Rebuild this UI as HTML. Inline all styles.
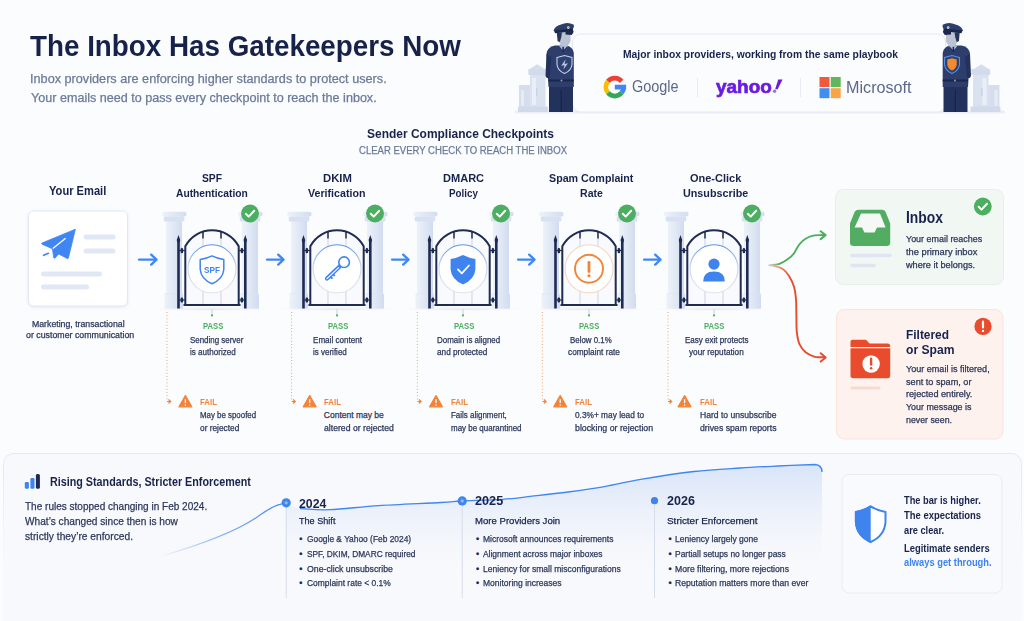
<!DOCTYPE html>
<html><head><meta charset="utf-8"><title>The Inbox Has Gatekeepers Now</title>
<style>
html,body{margin:0;padding:0;}
body{width:1024px;height:621px;overflow:hidden;position:relative;background:#fbfcfe;font-family:"Liberation Sans",sans-serif;}
.t{position:absolute;white-space:nowrap;transform-origin:0 0;}
svg.g{position:absolute;left:0;top:0;}
</style></head><body>
<svg class="g" width="1024" height="621" viewBox="0 0 1024 621">
<defs>
<linearGradient id="pil" x1="0" x2="1" y1="0" y2="0"><stop offset="0" stop-color="#edf2f9"/><stop offset="0.5" stop-color="#e0e8f5"/><stop offset="1" stop-color="#d2dcef"/></linearGradient><linearGradient id="cap" x1="0" x2="1" y1="0" y2="0"><stop offset="0" stop-color="#eef2f9"/><stop offset="0.5" stop-color="#dfe7f5"/><stop offset="1" stop-color="#d4ddef"/></linearGradient><radialGradient id="floor"><stop offset="0" stop-color="#e2e7f0" stop-opacity="0.9"/><stop offset="1" stop-color="#eef1f6" stop-opacity="0"/></radialGradient>
<linearGradient id="ringb" x1="0" x2="0" y1="0" y2="1"><stop offset="0" stop-color="#5b93ee"/><stop offset="0.45" stop-color="#c9d6ef"/><stop offset="1" stop-color="#dfe4ee"/></linearGradient>
<linearGradient id="tfill" x1="0" x2="0" y1="0" y2="1"><stop offset="0" stop-color="#d6e3f8" stop-opacity="0.95"/><stop offset="0.6" stop-color="#eaf0fa" stop-opacity="0.5"/><stop offset="1" stop-color="#f9fafd" stop-opacity="0"/></linearGradient>
<linearGradient id="tl1" x1="0" x2="1" y1="0" y2="0"><stop offset="0" stop-color="#3f83ee" stop-opacity="0"/><stop offset="0.5" stop-color="#3f83ee" stop-opacity="0.6"/><stop offset="1" stop-color="#3f83ee"/></linearGradient>
<linearGradient id="vfade" x1="0" x2="0" y1="0" y2="1"><stop offset="0" stop-color="#9fbdf0"/><stop offset="1" stop-color="#e8eef8" stop-opacity="0"/></linearGradient>
<linearGradient id="cardb" x1="0" x2="0" y1="0" y2="1"><stop offset="0" stop-color="#e3e8f1"/><stop offset="0.25" stop-color="#eaeef5"/><stop offset="0.6" stop-color="#f3f5f9" stop-opacity="0.3"/></linearGradient>
<linearGradient id="gcurve" gradientUnits="userSpaceOnUse" x1="769" y1="0" x2="790" y2="0"><stop offset="0" stop-color="#c7d3e6"/><stop offset="0.5" stop-color="#4cae60"/><stop offset="1" stop-color="#4cae60"/></linearGradient>
<linearGradient id="rcurve" gradientUnits="userSpaceOnUse" x1="769" y1="265" x2="790" y2="280"><stop offset="0" stop-color="#d8cfcf"/><stop offset="0.5" stop-color="#ee7a4a"/><stop offset="1" stop-color="#e84c2d"/></linearGradient>
<filter id="sh" x="-20%" y="-20%" width="140%" height="140%"><feDropShadow dx="0" dy="1" stdDeviation="1.5" flood-color="#9aa8c8" flood-opacity="0.25"/></filter>
</defs>
<rect x="515" y="110.5" width="490" height="3" rx="1.5" fill="#e6eaf2" opacity="0.8"/><rect x="519" y="85" width="12" height="27" fill="#d6deee"/><rect x="521" y="90" width="3" height="16" fill="#e6ecf6"/><rect x="530" y="74" width="15.5" height="38" fill="#dae2f0"/><rect x="532" y="78" width="4" height="27" fill="#e9eef7"/><rect x="536" y="88" width="1.5" height="8" fill="#c9d3e6"/><rect x="528.3" y="69" width="19" height="6" rx="1" fill="#d2dbec"/><path d="M528.8 69.5 L537.2 64.3 L545.6 69.5 Z" fill="#d6deee"/><rect x="518" y="106.5" width="30" height="5.5" rx="1" fill="#d1daeb"/><g transform="translate(1518.5,0) scale(-1,1)"><rect x="519" y="85" width="12" height="27" fill="#d6deee"/><rect x="521" y="90" width="3" height="16" fill="#e6ecf6"/><rect x="530" y="74" width="15.5" height="38" fill="#dae2f0"/><rect x="532" y="78" width="4" height="27" fill="#e9eef7"/><rect x="536" y="88" width="1.5" height="8" fill="#c9d3e6"/><rect x="528.3" y="69" width="19" height="6" rx="1" fill="#d2dbec"/><path d="M528.8 69.5 L537.2 64.3 L545.6 69.5 Z" fill="#d6deee"/><rect x="518" y="106.5" width="30" height="5.5" rx="1" fill="#d1daeb"/></g><rect x="572.5" y="34" width="373" height="78" rx="8" fill="#fbfcfe" stroke="#e3e8f1" stroke-width="1"/><line x1="697.5" y1="78" x2="697.5" y2="97" stroke="#e7ebf3" stroke-width="1"/><line x1="800.5" y1="78" x2="800.5" y2="97" stroke="#e7ebf3" stroke-width="1"/><path d="M607.96 81.36 A8.93 8.93 0 0 1 621.64 81.36" fill="none" stroke="#ea4335" stroke-width="4.75"/><path d="M607.96 92.84 A8.93 8.93 0 0 1 607.96 81.36" fill="none" stroke="#fbbc05" stroke-width="4.75"/><path d="M621.64 92.84 A8.93 8.93 0 0 1 607.96 92.84" fill="none" stroke="#34a853" stroke-width="4.75"/><path d="M623.73 87.10 A8.93 8.93 0 0 1 621.64 92.84" fill="none" stroke="#4285f4" stroke-width="4.75"/><rect x="614.80" y="84.73" width="11.30" height="4.75" fill="#4285f4"/><rect x="819.5" y="77" width="10" height="10" fill="#ee5a3a"/><rect x="830.7" y="77" width="10" height="10" fill="#5fb65c"/><rect x="819.5" y="88.2" width="10" height="10" fill="#3f8ff0"/><rect x="830.7" y="88.2" width="10" height="10" fill="#f8a448"/><path d="M778.2 79.5 L782.6 79.5 L777.6 89.2 L775.2 89.2 Z" fill="#6a1be0"/><circle cx="774.6" cy="91.3" r="1.7" fill="#8a7fc8"/><g transform="translate(546,0)"><rect x="3" y="84" width="24" height="28" fill="#22325c"/><rect x="14.6" y="90" width="1.1" height="22" fill="#16234a"/><path d="M0.5 54 Q1 47 9 45.5 L20 45.5 Q27 46.5 27.8 53 L27.8 87 L2.5 87 Z" fill="#2d3e6d"/><path d="M0.5 54 L-0.5 76 Q0.5 79 3.5 78 L5.5 57 Z" fill="#22325c"/><rect x="2.5" y="79.5" width="25.3" height="2" fill="#1a2748"/><circle cx="15.5" cy="80.5" r="1" fill="#8f9bb8"/><path d="M13 45.8 L17 50.5 L21.5 45.8 Z" fill="#a9c2ea"/><rect x="16.4" y="46.5" width="1.5" height="5.5" fill="#1a2748"/><rect x="14.5" y="41" width="7.5" height="5.5" fill="#a7b0c4"/><path d="M13 33 L24.6 32.5 L24.6 41 Q23.2 46.4 18.2 46.4 Q13.6 46 13 41 Z" fill="#bcc3d2"/><path d="M10.8 32.5 L16 32.5 L15.2 37.5 L13.8 42 L11.6 41.2 Z" fill="#25355e"/><path d="M7.5 31 Q8.5 26.5 15 24.6 Q21.5 21.5 27.9 24.8 Q28.3 27.5 26.8 29.2 L18 31.6 Z" fill="#2d3e6d"/><path d="M8 30.6 L26.8 28.6 L27.2 31.6 L9 33.2 Z" fill="#1b284d"/><path d="M19.5 31.6 L27.6 30.8 Q27.6 33.8 25.6 35 L19.5 34.6 Z" fill="#1b284d"/><circle cx="22.3" cy="27.6" r="1.3" fill="#e9ddd0"/><circle cx="22.3" cy="27.6" r="0.7" fill="#e58a4a"/><path d="M11 57.5 L18.5 55.5 L26 57.5 L26 64.5 Q25.5 70.5 18.5 73.5 Q11.5 70.5 11 64.5 Z" fill="#2e4270" stroke="#c4d1ee" stroke-width="1.1"/><path d="M15.2 65.8 L19.6 59.2 L18.6 64 L22 63.2 L17.4 69.6 L18.4 65.2 Z" fill="#b7c5e3"/></g><g transform="translate(970.5,0) scale(-1,1)"><rect x="3" y="84" width="24" height="28" fill="#22325c"/><rect x="14.6" y="90" width="1.1" height="22" fill="#16234a"/><path d="M0.5 54 Q1 47 9 45.5 L20 45.5 Q27 46.5 27.8 53 L27.8 87 L2.5 87 Z" fill="#2d3e6d"/><path d="M0.5 54 L-0.5 76 Q0.5 79 3.5 78 L5.5 57 Z" fill="#22325c"/><rect x="2.5" y="79.5" width="25.3" height="2" fill="#1a2748"/><circle cx="15.5" cy="80.5" r="1" fill="#8f9bb8"/><path d="M13 45.8 L17 50.5 L21.5 45.8 Z" fill="#a9c2ea"/><rect x="16.4" y="46.5" width="1.5" height="5.5" fill="#1a2748"/><rect x="14.5" y="41" width="7.5" height="5.5" fill="#a7b0c4"/><path d="M13 33 L24.6 32.5 L24.6 41 Q23.2 46.4 18.2 46.4 Q13.6 46 13 41 Z" fill="#bcc3d2"/><path d="M10.8 32.5 L16 32.5 L15.2 37.5 L13.8 42 L11.6 41.2 Z" fill="#25355e"/><path d="M7.5 31 Q8.5 26.5 15 24.6 Q21.5 21.5 27.9 24.8 Q28.3 27.5 26.8 29.2 L18 31.6 Z" fill="#2d3e6d"/><path d="M8 30.6 L26.8 28.6 L27.2 31.6 L9 33.2 Z" fill="#1b284d"/><path d="M19.5 31.6 L27.6 30.8 Q27.6 33.8 25.6 35 L19.5 34.6 Z" fill="#1b284d"/><circle cx="22.3" cy="27.6" r="1.3" fill="#e9ddd0"/><circle cx="22.3" cy="27.6" r="0.7" fill="#e58a4a"/><path d="M11 57.5 L18.5 55.5 L26 57.5 L26 64.5 Q25.5 70.5 18.5 73.5 Q11.5 70.5 11 64.5 Z" fill="#2e4270" stroke="#5b8fe6" stroke-width="1.1"/><path d="M13.8 59.5 L18.5 58.2 L23.2 59.5 L23.2 64.5 Q22.8 68.5 18.5 70.6 Q14.2 68.5 13.8 64.5 Z" fill="#f28a2e"/></g><rect x="28.5" y="211" width="99" height="95" rx="5" fill="#ffffff" stroke="#e2e7f1" stroke-width="1" filter="url(#sh)"/><path d="M75.4 229.2 L42 243 Q41.2 243.6 42 244.2 L52.4 248.8 L53.8 257.8 Q54.2 258.8 55 258 L58.6 254 L67.4 258.6 Q68.2 258.9 68.4 258 Z" fill="#3f86f2" stroke="#3f86f2" stroke-width="0.8" stroke-linejoin="round"/><path d="M52.8 248.6 L65.6 238.3" stroke="#ffffff" stroke-width="1.3"/><path d="M43.6 255.3 L48.4 253.3" stroke="#3f86f2" stroke-width="1.7" stroke-linecap="round"/><line x1="86" y1="237" x2="113" y2="237" stroke="#e1e8f5" stroke-width="5" stroke-linecap="round"/><line x1="86" y1="251" x2="113" y2="251" stroke="#e1e8f5" stroke-width="5" stroke-linecap="round"/><line x1="43.5" y1="274" x2="99.5" y2="274" stroke="#e1e8f5" stroke-width="5" stroke-linecap="round"/><line x1="43.5" y1="287" x2="86.5" y2="287" stroke="#e1e8f5" stroke-width="5" stroke-linecap="round"/><line x1="139" y1="259.6" x2="155.5" y2="259.6" stroke="#3f87f3" stroke-width="2.3" stroke-linecap="round"/><path d="M151.2 254.60000000000002 L156.5 259.6 L151.2 264.6" fill="none" stroke="#3f87f3" stroke-width="2.3" stroke-linecap="round" stroke-linejoin="round"/><g transform="translate(212,0)"><ellipse cx="0" cy="309" rx="62" ry="2.6" fill="url(#floor)"/><rect x="-47.5" y="294" width="18.5" height="14.8" rx="1" fill="url(#pil)"/><rect x="-46" y="221" width="16" height="79" fill="url(#pil)"/><rect x="-48.3" y="216.2" width="20.6" height="5.4" rx="1.5" fill="#d8e1f1"/><rect x="-50" y="211.8" width="24.5" height="4.6" rx="2" fill="url(#cap)"/><rect x="-47.5" y="293.5" width="18.5" height="0.8" fill="#dde3ef"/><rect x="28.5" y="294" width="18.5" height="14.8" rx="1" fill="url(#pil)"/><rect x="30" y="221" width="16" height="79" fill="url(#pil)"/><rect x="27.7" y="216.2" width="20.6" height="5.4" rx="1.5" fill="#d8e1f1"/><rect x="26" y="211.8" width="24.5" height="4.6" rx="2" fill="url(#cap)"/><rect x="28.5" y="293.5" width="18.5" height="0.8" fill="#dde3ef"/><path d="M-26.7 305 L-26.7 246.2 A30.3 30.3 0 0 1 26.7 246.2 L26.7 305 Z" fill="#f9fafd"/><line x1="-9" y1="232" x2="-9" y2="305" stroke="#d8dfeb" stroke-width="1.4"/><line x1="-9" y1="231.5" x2="-9" y2="238.5" stroke="#1f2b52" stroke-width="1.5"/><line x1="9" y1="232" x2="9" y2="305" stroke="#d8dfeb" stroke-width="1.4"/><line x1="9" y1="231.5" x2="9" y2="238.5" stroke="#1f2b52" stroke-width="1.5"/><path d="M-26.7 305 L-26.7 246.2 A30.3 30.3 0 0 1 26.7 246.2 L26.7 305" fill="none" stroke="#1f2b52" stroke-width="2"/><line x1="-28.5" y1="305" x2="28.5" y2="305" stroke="#1f2b52" stroke-width="2.2"/><line x1="-33.5" y1="239" x2="-33.5" y2="308.5" stroke="#1f2b52" stroke-width="2.6"/><path d="M-35.4 240.5 L-33.5 235 L-31.6 240.5 Z" fill="#1f2b52"/><circle cx="-33.5" cy="241" r="1.5" fill="#1f2b52"/><ellipse cx="-30.1" cy="250.5" rx="1.5" ry="2.8" fill="#1f2b52"/><line x1="-33.5" y1="250.5" x2="-26.5" y2="250.5" stroke="#1f2b52" stroke-width="1"/><ellipse cx="-30.1" cy="300" rx="1.5" ry="2.8" fill="#1f2b52"/><line x1="-33.5" y1="300" x2="-26.5" y2="300" stroke="#1f2b52" stroke-width="1"/><line x1="33.3" y1="239" x2="33.3" y2="308.5" stroke="#1f2b52" stroke-width="2.6"/><path d="M31.4 240.5 L33.3 235 L35.199999999999996 240.5 Z" fill="#1f2b52"/><circle cx="33.3" cy="241" r="1.5" fill="#1f2b52"/><ellipse cx="29.9" cy="250.5" rx="1.5" ry="2.8" fill="#1f2b52"/><line x1="33.3" y1="250.5" x2="26.299999999999997" y2="250.5" stroke="#1f2b52" stroke-width="1"/><ellipse cx="29.9" cy="300" rx="1.5" ry="2.8" fill="#1f2b52"/><line x1="33.3" y1="300" x2="26.299999999999997" y2="300" stroke="#1f2b52" stroke-width="1"/><circle cx="0" cy="268.8" r="24" fill="#ffffff" stroke="url(#ringb)" stroke-width="1.1"/><path d="M-11.8 259.6 Q-5.5 258.6 0 255.9 Q5.5 258.6 11.8 259.6 L11.8 269.5 Q11 279 0 283.8 Q-11 279 -11.8 269.5 Z" fill="#ffffff" stroke="#3f83ee" stroke-width="1.5" stroke-linejoin="round"/><circle cx="38" cy="213.5" r="9" fill="#4cae60"/><path d="M33.8 213.7 L36.7 216.6 L42.2 210.8" fill="none" stroke="#ffffff" stroke-width="2" stroke-linecap="round" stroke-linejoin="round"/><line x1="0" y1="309.5" x2="0" y2="314.5" stroke="#c3cad8" stroke-width="0.9"/><circle cx="0" cy="315.4" r="1.1" fill="#4cae60"/><line x1="-45" y1="312" x2="-45" y2="401" stroke="#f3a36c" stroke-width="1" stroke-dasharray="1 2.2"/><path d="M-45 401.5 L-41.5 401.5 M-43.5 399.5 L-41.3 401.5 L-43.5 403.5" fill="none" stroke="#f2843a" stroke-width="1.2"/><path d="M-26.6 395.6 L-20.200000000000003 406.8 L-33.0 406.8 Z" fill="#f2843a" stroke="#f2843a" stroke-width="1.3" stroke-linejoin="round"/><line x1="-26.6" y1="399.3" x2="-26.6" y2="403" stroke="#fff" stroke-width="1.3"/><circle cx="-26.6" cy="405" r="0.7" fill="#fff"/></g><line x1="267" y1="259.6" x2="282.5" y2="259.6" stroke="#3f87f3" stroke-width="2.3" stroke-linecap="round"/><path d="M278.2 254.60000000000002 L283.5 259.6 L278.2 264.6" fill="none" stroke="#3f87f3" stroke-width="2.3" stroke-linecap="round" stroke-linejoin="round"/><g transform="translate(337,0)"><ellipse cx="0" cy="309" rx="62" ry="2.6" fill="url(#floor)"/><rect x="-47.5" y="294" width="18.5" height="14.8" rx="1" fill="url(#pil)"/><rect x="-46" y="221" width="16" height="79" fill="url(#pil)"/><rect x="-48.3" y="216.2" width="20.6" height="5.4" rx="1.5" fill="#d8e1f1"/><rect x="-50" y="211.8" width="24.5" height="4.6" rx="2" fill="url(#cap)"/><rect x="-47.5" y="293.5" width="18.5" height="0.8" fill="#dde3ef"/><rect x="28.5" y="294" width="18.5" height="14.8" rx="1" fill="url(#pil)"/><rect x="30" y="221" width="16" height="79" fill="url(#pil)"/><rect x="27.7" y="216.2" width="20.6" height="5.4" rx="1.5" fill="#d8e1f1"/><rect x="26" y="211.8" width="24.5" height="4.6" rx="2" fill="url(#cap)"/><rect x="28.5" y="293.5" width="18.5" height="0.8" fill="#dde3ef"/><path d="M-26.7 305 L-26.7 246.2 A30.3 30.3 0 0 1 26.7 246.2 L26.7 305 Z" fill="#f9fafd"/><line x1="-9" y1="232" x2="-9" y2="305" stroke="#d8dfeb" stroke-width="1.4"/><line x1="-9" y1="231.5" x2="-9" y2="238.5" stroke="#1f2b52" stroke-width="1.5"/><line x1="9" y1="232" x2="9" y2="305" stroke="#d8dfeb" stroke-width="1.4"/><line x1="9" y1="231.5" x2="9" y2="238.5" stroke="#1f2b52" stroke-width="1.5"/><path d="M-26.7 305 L-26.7 246.2 A30.3 30.3 0 0 1 26.7 246.2 L26.7 305" fill="none" stroke="#1f2b52" stroke-width="2"/><line x1="-28.5" y1="305" x2="28.5" y2="305" stroke="#1f2b52" stroke-width="2.2"/><line x1="-33.5" y1="239" x2="-33.5" y2="308.5" stroke="#1f2b52" stroke-width="2.6"/><path d="M-35.4 240.5 L-33.5 235 L-31.6 240.5 Z" fill="#1f2b52"/><circle cx="-33.5" cy="241" r="1.5" fill="#1f2b52"/><ellipse cx="-30.1" cy="250.5" rx="1.5" ry="2.8" fill="#1f2b52"/><line x1="-33.5" y1="250.5" x2="-26.5" y2="250.5" stroke="#1f2b52" stroke-width="1"/><ellipse cx="-30.1" cy="300" rx="1.5" ry="2.8" fill="#1f2b52"/><line x1="-33.5" y1="300" x2="-26.5" y2="300" stroke="#1f2b52" stroke-width="1"/><line x1="33.3" y1="239" x2="33.3" y2="308.5" stroke="#1f2b52" stroke-width="2.6"/><path d="M31.4 240.5 L33.3 235 L35.199999999999996 240.5 Z" fill="#1f2b52"/><circle cx="33.3" cy="241" r="1.5" fill="#1f2b52"/><ellipse cx="29.9" cy="250.5" rx="1.5" ry="2.8" fill="#1f2b52"/><line x1="33.3" y1="250.5" x2="26.299999999999997" y2="250.5" stroke="#1f2b52" stroke-width="1"/><ellipse cx="29.9" cy="300" rx="1.5" ry="2.8" fill="#1f2b52"/><line x1="33.3" y1="300" x2="26.299999999999997" y2="300" stroke="#1f2b52" stroke-width="1"/><circle cx="0" cy="268.8" r="24" fill="#ffffff" stroke="url(#ringb)" stroke-width="1.1"/><path d="M2.6 266.6 L-10 278.6" fill="none" stroke="#3f83ee" stroke-width="4.2" stroke-linecap="round"/><path d="M-6.6 276.6 L-5.2 278 M-4 274.2 L-2.8 275.4" fill="none" stroke="#3f83ee" stroke-width="2" stroke-linecap="round"/><path d="M1.6 267.6 L-10 278.6" fill="none" stroke="#ffffff" stroke-width="1.2" stroke-linecap="round"/><circle cx="7.1" cy="262.2" r="5.3" fill="#ffffff" stroke="#3f83ee" stroke-width="1.6"/><circle cx="38" cy="213.5" r="9" fill="#4cae60"/><path d="M33.8 213.7 L36.7 216.6 L42.2 210.8" fill="none" stroke="#ffffff" stroke-width="2" stroke-linecap="round" stroke-linejoin="round"/><line x1="0" y1="309.5" x2="0" y2="314.5" stroke="#c3cad8" stroke-width="0.9"/><circle cx="0" cy="315.4" r="1.1" fill="#4cae60"/><line x1="-45.4" y1="312" x2="-45.4" y2="401" stroke="#f3a36c" stroke-width="1" stroke-dasharray="1 2.2"/><path d="M-45.4 401.5 L-41.9 401.5 M-43.9 399.5 L-41.699999999999996 401.5 L-43.9 403.5" fill="none" stroke="#f2843a" stroke-width="1.2"/><path d="M-27.3 395.6 L-20.9 406.8 L-33.7 406.8 Z" fill="#f2843a" stroke="#f2843a" stroke-width="1.3" stroke-linejoin="round"/><line x1="-27.3" y1="399.3" x2="-27.3" y2="403" stroke="#fff" stroke-width="1.3"/><circle cx="-27.3" cy="405" r="0.7" fill="#fff"/></g><line x1="392" y1="259.6" x2="407.5" y2="259.6" stroke="#3f87f3" stroke-width="2.3" stroke-linecap="round"/><path d="M403.2 254.60000000000002 L408.5 259.6 L403.2 264.6" fill="none" stroke="#3f87f3" stroke-width="2.3" stroke-linecap="round" stroke-linejoin="round"/><g transform="translate(463,0)"><ellipse cx="0" cy="309" rx="62" ry="2.6" fill="url(#floor)"/><rect x="-47.5" y="294" width="18.5" height="14.8" rx="1" fill="url(#pil)"/><rect x="-46" y="221" width="16" height="79" fill="url(#pil)"/><rect x="-48.3" y="216.2" width="20.6" height="5.4" rx="1.5" fill="#d8e1f1"/><rect x="-50" y="211.8" width="24.5" height="4.6" rx="2" fill="url(#cap)"/><rect x="-47.5" y="293.5" width="18.5" height="0.8" fill="#dde3ef"/><rect x="28.5" y="294" width="18.5" height="14.8" rx="1" fill="url(#pil)"/><rect x="30" y="221" width="16" height="79" fill="url(#pil)"/><rect x="27.7" y="216.2" width="20.6" height="5.4" rx="1.5" fill="#d8e1f1"/><rect x="26" y="211.8" width="24.5" height="4.6" rx="2" fill="url(#cap)"/><rect x="28.5" y="293.5" width="18.5" height="0.8" fill="#dde3ef"/><path d="M-26.7 305 L-26.7 246.2 A30.3 30.3 0 0 1 26.7 246.2 L26.7 305 Z" fill="#f9fafd"/><line x1="-9" y1="232" x2="-9" y2="305" stroke="#d8dfeb" stroke-width="1.4"/><line x1="-9" y1="231.5" x2="-9" y2="238.5" stroke="#1f2b52" stroke-width="1.5"/><line x1="9" y1="232" x2="9" y2="305" stroke="#d8dfeb" stroke-width="1.4"/><line x1="9" y1="231.5" x2="9" y2="238.5" stroke="#1f2b52" stroke-width="1.5"/><path d="M-26.7 305 L-26.7 246.2 A30.3 30.3 0 0 1 26.7 246.2 L26.7 305" fill="none" stroke="#1f2b52" stroke-width="2"/><line x1="-28.5" y1="305" x2="28.5" y2="305" stroke="#1f2b52" stroke-width="2.2"/><line x1="-33.5" y1="239" x2="-33.5" y2="308.5" stroke="#1f2b52" stroke-width="2.6"/><path d="M-35.4 240.5 L-33.5 235 L-31.6 240.5 Z" fill="#1f2b52"/><circle cx="-33.5" cy="241" r="1.5" fill="#1f2b52"/><ellipse cx="-30.1" cy="250.5" rx="1.5" ry="2.8" fill="#1f2b52"/><line x1="-33.5" y1="250.5" x2="-26.5" y2="250.5" stroke="#1f2b52" stroke-width="1"/><ellipse cx="-30.1" cy="300" rx="1.5" ry="2.8" fill="#1f2b52"/><line x1="-33.5" y1="300" x2="-26.5" y2="300" stroke="#1f2b52" stroke-width="1"/><line x1="33.3" y1="239" x2="33.3" y2="308.5" stroke="#1f2b52" stroke-width="2.6"/><path d="M31.4 240.5 L33.3 235 L35.199999999999996 240.5 Z" fill="#1f2b52"/><circle cx="33.3" cy="241" r="1.5" fill="#1f2b52"/><ellipse cx="29.9" cy="250.5" rx="1.5" ry="2.8" fill="#1f2b52"/><line x1="33.3" y1="250.5" x2="26.299999999999997" y2="250.5" stroke="#1f2b52" stroke-width="1"/><ellipse cx="29.9" cy="300" rx="1.5" ry="2.8" fill="#1f2b52"/><line x1="33.3" y1="300" x2="26.299999999999997" y2="300" stroke="#1f2b52" stroke-width="1"/><circle cx="0" cy="268.8" r="24" fill="#ffffff" stroke="url(#ringb)" stroke-width="1.1"/><path d="M-12.4 259 Q-6 258 0 255 Q6 258 12.4 259 L12.4 269.5 Q11.6 279.5 0 284.4 Q-11.6 279.5 -12.4 269.5 Z" fill="#3f83ee"/><path d="M-5 269.5 L-1.2 273.3 L6 265.5" fill="none" stroke="#ffffff" stroke-width="1.8" stroke-linecap="round" stroke-linejoin="round"/><circle cx="38" cy="213.5" r="9" fill="#4cae60"/><path d="M33.8 213.7 L36.7 216.6 L42.2 210.8" fill="none" stroke="#ffffff" stroke-width="2" stroke-linecap="round" stroke-linejoin="round"/><line x1="0" y1="309.5" x2="0" y2="314.5" stroke="#c3cad8" stroke-width="0.9"/><circle cx="0" cy="315.4" r="1.1" fill="#4cae60"/><line x1="-45.6" y1="312" x2="-45.6" y2="401" stroke="#f3a36c" stroke-width="1" stroke-dasharray="1 2.2"/><path d="M-45.6 401.5 L-42.1 401.5 M-44.1 399.5 L-41.9 401.5 L-44.1 403.5" fill="none" stroke="#f2843a" stroke-width="1.2"/><path d="M-27 395.6 L-20.6 406.8 L-33.4 406.8 Z" fill="#f2843a" stroke="#f2843a" stroke-width="1.3" stroke-linejoin="round"/><line x1="-27" y1="399.3" x2="-27" y2="403" stroke="#fff" stroke-width="1.3"/><circle cx="-27" cy="405" r="0.7" fill="#fff"/></g><line x1="518" y1="259.6" x2="533.5" y2="259.6" stroke="#3f87f3" stroke-width="2.3" stroke-linecap="round"/><path d="M529.2 254.60000000000002 L534.5 259.6 L529.2 264.6" fill="none" stroke="#3f87f3" stroke-width="2.3" stroke-linecap="round" stroke-linejoin="round"/><g transform="translate(589,0)"><ellipse cx="0" cy="309" rx="62" ry="2.6" fill="url(#floor)"/><rect x="-47.5" y="294" width="18.5" height="14.8" rx="1" fill="url(#pil)"/><rect x="-46" y="221" width="16" height="79" fill="url(#pil)"/><rect x="-48.3" y="216.2" width="20.6" height="5.4" rx="1.5" fill="#d8e1f1"/><rect x="-50" y="211.8" width="24.5" height="4.6" rx="2" fill="url(#cap)"/><rect x="-47.5" y="293.5" width="18.5" height="0.8" fill="#dde3ef"/><rect x="28.5" y="294" width="18.5" height="14.8" rx="1" fill="url(#pil)"/><rect x="30" y="221" width="16" height="79" fill="url(#pil)"/><rect x="27.7" y="216.2" width="20.6" height="5.4" rx="1.5" fill="#d8e1f1"/><rect x="26" y="211.8" width="24.5" height="4.6" rx="2" fill="url(#cap)"/><rect x="28.5" y="293.5" width="18.5" height="0.8" fill="#dde3ef"/><path d="M-26.7 305 L-26.7 246.2 A30.3 30.3 0 0 1 26.7 246.2 L26.7 305 Z" fill="#f9fafd"/><line x1="-9" y1="232" x2="-9" y2="305" stroke="#d8dfeb" stroke-width="1.4"/><line x1="-9" y1="231.5" x2="-9" y2="238.5" stroke="#1f2b52" stroke-width="1.5"/><line x1="9" y1="232" x2="9" y2="305" stroke="#d8dfeb" stroke-width="1.4"/><line x1="9" y1="231.5" x2="9" y2="238.5" stroke="#1f2b52" stroke-width="1.5"/><path d="M-26.7 305 L-26.7 246.2 A30.3 30.3 0 0 1 26.7 246.2 L26.7 305" fill="none" stroke="#1f2b52" stroke-width="2"/><line x1="-28.5" y1="305" x2="28.5" y2="305" stroke="#1f2b52" stroke-width="2.2"/><line x1="-33.5" y1="239" x2="-33.5" y2="308.5" stroke="#1f2b52" stroke-width="2.6"/><path d="M-35.4 240.5 L-33.5 235 L-31.6 240.5 Z" fill="#1f2b52"/><circle cx="-33.5" cy="241" r="1.5" fill="#1f2b52"/><ellipse cx="-30.1" cy="250.5" rx="1.5" ry="2.8" fill="#1f2b52"/><line x1="-33.5" y1="250.5" x2="-26.5" y2="250.5" stroke="#1f2b52" stroke-width="1"/><ellipse cx="-30.1" cy="300" rx="1.5" ry="2.8" fill="#1f2b52"/><line x1="-33.5" y1="300" x2="-26.5" y2="300" stroke="#1f2b52" stroke-width="1"/><line x1="33.3" y1="239" x2="33.3" y2="308.5" stroke="#1f2b52" stroke-width="2.6"/><path d="M31.4 240.5 L33.3 235 L35.199999999999996 240.5 Z" fill="#1f2b52"/><circle cx="33.3" cy="241" r="1.5" fill="#1f2b52"/><ellipse cx="29.9" cy="250.5" rx="1.5" ry="2.8" fill="#1f2b52"/><line x1="33.3" y1="250.5" x2="26.299999999999997" y2="250.5" stroke="#1f2b52" stroke-width="1"/><ellipse cx="29.9" cy="300" rx="1.5" ry="2.8" fill="#1f2b52"/><line x1="33.3" y1="300" x2="26.299999999999997" y2="300" stroke="#1f2b52" stroke-width="1"/><circle cx="0" cy="268.8" r="24" fill="#ffffff" stroke="#f6d7c2" stroke-width="1.1"/><circle cx="0" cy="268.8" r="14" fill="none" stroke="#f2843a" stroke-width="1.9"/><line x1="0" y1="262.3" x2="0" y2="271.5" stroke="#f2843a" stroke-width="2.8" stroke-linecap="round"/><circle cx="0" cy="275.8" r="1.6" fill="#f2843a"/><circle cx="38" cy="213.5" r="9" fill="#4cae60"/><path d="M33.8 213.7 L36.7 216.6 L42.2 210.8" fill="none" stroke="#ffffff" stroke-width="2" stroke-linecap="round" stroke-linejoin="round"/><line x1="0" y1="309.5" x2="0" y2="314.5" stroke="#c3cad8" stroke-width="0.9"/><circle cx="0" cy="315.4" r="1.1" fill="#4cae60"/><line x1="-46.6" y1="312" x2="-46.6" y2="401" stroke="#f3a36c" stroke-width="1" stroke-dasharray="1 2.2"/><path d="M-46.6 401.5 L-43.1 401.5 M-45.1 399.5 L-42.9 401.5 L-45.1 403.5" fill="none" stroke="#f2843a" stroke-width="1.2"/><path d="M-28.8 395.6 L-22.4 406.8 L-35.2 406.8 Z" fill="#f2843a" stroke="#f2843a" stroke-width="1.3" stroke-linejoin="round"/><line x1="-28.8" y1="399.3" x2="-28.8" y2="403" stroke="#fff" stroke-width="1.3"/><circle cx="-28.8" cy="405" r="0.7" fill="#fff"/></g><line x1="644" y1="259.6" x2="659.5" y2="259.6" stroke="#3f87f3" stroke-width="2.3" stroke-linecap="round"/><path d="M655.2 254.60000000000002 L660.5 259.6 L655.2 264.6" fill="none" stroke="#3f87f3" stroke-width="2.3" stroke-linecap="round" stroke-linejoin="round"/><g transform="translate(714,0)"><ellipse cx="0" cy="309" rx="62" ry="2.6" fill="url(#floor)"/><rect x="-47.5" y="294" width="18.5" height="14.8" rx="1" fill="url(#pil)"/><rect x="-46" y="221" width="16" height="79" fill="url(#pil)"/><rect x="-48.3" y="216.2" width="20.6" height="5.4" rx="1.5" fill="#d8e1f1"/><rect x="-50" y="211.8" width="24.5" height="4.6" rx="2" fill="url(#cap)"/><rect x="-47.5" y="293.5" width="18.5" height="0.8" fill="#dde3ef"/><rect x="28.5" y="294" width="18.5" height="14.8" rx="1" fill="url(#pil)"/><rect x="30" y="221" width="16" height="79" fill="url(#pil)"/><rect x="27.7" y="216.2" width="20.6" height="5.4" rx="1.5" fill="#d8e1f1"/><rect x="26" y="211.8" width="24.5" height="4.6" rx="2" fill="url(#cap)"/><rect x="28.5" y="293.5" width="18.5" height="0.8" fill="#dde3ef"/><path d="M-26.7 305 L-26.7 246.2 A30.3 30.3 0 0 1 26.7 246.2 L26.7 305 Z" fill="#f9fafd"/><line x1="-9" y1="232" x2="-9" y2="305" stroke="#d8dfeb" stroke-width="1.4"/><line x1="-9" y1="231.5" x2="-9" y2="238.5" stroke="#1f2b52" stroke-width="1.5"/><line x1="9" y1="232" x2="9" y2="305" stroke="#d8dfeb" stroke-width="1.4"/><line x1="9" y1="231.5" x2="9" y2="238.5" stroke="#1f2b52" stroke-width="1.5"/><path d="M-26.7 305 L-26.7 246.2 A30.3 30.3 0 0 1 26.7 246.2 L26.7 305" fill="none" stroke="#1f2b52" stroke-width="2"/><line x1="-28.5" y1="305" x2="28.5" y2="305" stroke="#1f2b52" stroke-width="2.2"/><line x1="-33.5" y1="239" x2="-33.5" y2="308.5" stroke="#1f2b52" stroke-width="2.6"/><path d="M-35.4 240.5 L-33.5 235 L-31.6 240.5 Z" fill="#1f2b52"/><circle cx="-33.5" cy="241" r="1.5" fill="#1f2b52"/><ellipse cx="-30.1" cy="250.5" rx="1.5" ry="2.8" fill="#1f2b52"/><line x1="-33.5" y1="250.5" x2="-26.5" y2="250.5" stroke="#1f2b52" stroke-width="1"/><ellipse cx="-30.1" cy="300" rx="1.5" ry="2.8" fill="#1f2b52"/><line x1="-33.5" y1="300" x2="-26.5" y2="300" stroke="#1f2b52" stroke-width="1"/><line x1="33.3" y1="239" x2="33.3" y2="308.5" stroke="#1f2b52" stroke-width="2.6"/><path d="M31.4 240.5 L33.3 235 L35.199999999999996 240.5 Z" fill="#1f2b52"/><circle cx="33.3" cy="241" r="1.5" fill="#1f2b52"/><ellipse cx="29.9" cy="250.5" rx="1.5" ry="2.8" fill="#1f2b52"/><line x1="33.3" y1="250.5" x2="26.299999999999997" y2="250.5" stroke="#1f2b52" stroke-width="1"/><ellipse cx="29.9" cy="300" rx="1.5" ry="2.8" fill="#1f2b52"/><line x1="33.3" y1="300" x2="26.299999999999997" y2="300" stroke="#1f2b52" stroke-width="1"/><circle cx="0" cy="268.8" r="24" fill="#ffffff" stroke="url(#ringb)" stroke-width="1.1"/><circle cx="0" cy="264.1" r="5.6" fill="#3f83ee"/><path d="M-10.8 281.4 Q-10.8 271.6 0 271.6 Q10.8 271.6 10.8 281.4 Z" fill="#3f83ee"/><circle cx="38" cy="213.5" r="9" fill="#4cae60"/><path d="M33.8 213.7 L36.7 216.6 L42.2 210.8" fill="none" stroke="#ffffff" stroke-width="2" stroke-linecap="round" stroke-linejoin="round"/><line x1="0" y1="309.5" x2="0" y2="314.5" stroke="#c3cad8" stroke-width="0.9"/><circle cx="0" cy="315.4" r="1.1" fill="#4cae60"/><line x1="-46" y1="312" x2="-46" y2="401" stroke="#f3a36c" stroke-width="1" stroke-dasharray="1 2.2"/><path d="M-46 401.5 L-42.5 401.5 M-44.5 399.5 L-42.3 401.5 L-44.5 403.5" fill="none" stroke="#f2843a" stroke-width="1.2"/><path d="M-29.4 395.6 L-23.0 406.8 L-35.8 406.8 Z" fill="#f2843a" stroke="#f2843a" stroke-width="1.3" stroke-linejoin="round"/><line x1="-29.4" y1="399.3" x2="-29.4" y2="403" stroke="#fff" stroke-width="1.3"/><circle cx="-29.4" cy="405" r="0.7" fill="#fff"/></g><rect x="835.5" y="189.5" width="168" height="95" rx="8" fill="#f1f7f2" stroke="#e6f0e7" stroke-width="1"/><path d="M859 209.7 L882 209.7 Q884.6 209.7 885.6 212 L890.2 223.5 L890.2 242.5 Q890.2 246 886.5 246 L853.7 246 Q850 246 850 242.5 L850 223.5 L854.6 212 Q855.6 209.7 859 209.7 Z" fill="#52ad63"/><path d="M861 213.6 L880 213.6 L885.6 227.6 L877 227.6 L874.6 232.6 L864.4 232.6 L862 227.6 L854.6 227.6 Z" fill="#f4f9f5"/><line x1="852" y1="255.5" x2="890" y2="255.5" stroke="#dfe5f2" stroke-width="3.5" stroke-linecap="round"/><line x1="852" y1="265.5" x2="874" y2="265.5" stroke="#dfe5f2" stroke-width="3.5" stroke-linecap="round"/><circle cx="982.8" cy="206.5" r="8.9" fill="#4cae60"/><path d="M978.6 206.7 L981.5 209.6 L987 203.8" fill="none" stroke="#ffffff" stroke-width="2" stroke-linecap="round" stroke-linejoin="round"/><rect x="836.5" y="309.5" width="166.5" height="129.5" rx="8" fill="#fdf2ee" stroke="#f9e3da" stroke-width="1"/><path d="M852.5 339.7 L866 339.7 L869.5 343.5 L888 343.5 Q890.2 343.5 890.2 346 L890.2 375.5 Q890.2 378.2 887.5 378.2 L853.2 378.2 Q850.5 378.2 850.5 375.5 L850.5 342 Q850.5 339.7 852.5 339.7 Z" fill="#e84c2d"/><line x1="850" y1="347.6" x2="891" y2="347.6" stroke="#fdf2ed" stroke-width="1.3"/><circle cx="871.1" cy="364" r="8.7" fill="#ffffff"/><line x1="871.1" y1="358.8" x2="871.1" y2="364.6" stroke="#e84c2d" stroke-width="2.4" stroke-linecap="round"/><circle cx="871.1" cy="368.3" r="1.3" fill="#e84c2d"/><line x1="852" y1="388" x2="879" y2="388" stroke="#f6dccf" stroke-width="3" stroke-linecap="round"/><circle cx="983" cy="326.4" r="8.6" fill="#e84c2d"/><line x1="983" y1="321.7" x2="983" y2="327.5" stroke="#fff" stroke-width="2.2" stroke-linecap="round"/><circle cx="983" cy="330.9" r="1.2" fill="#fff"/><path d="M769.3 265.2 C771.0 265.0 776.2 264.9 779.5 263.8 C782.8 262.7 786.5 260.1 788.9 258.3 C791.3 256.6 792.7 255.0 794 253.3 C795.3 251.6 795.9 249.8 796.9 248.2 C797.9 246.6 798.3 245.4 799.8 243.8 C801.2 242.2 803.5 240.1 805.6 238.8 C807.7 237.5 809.7 236.5 812.1 235.9 C814.5 235.3 818.0 235.2 820.1 235.1 C822.2 235.0 824.0 235.1 824.8 235.1" fill="none" stroke="url(#gcurve)" stroke-width="1.9" stroke-linecap="round"/><path d="M820.6 231.2 L825.6 235.1 L820.6 239.1" fill="none" stroke="#4cae60" stroke-width="2" stroke-linecap="round" stroke-linejoin="round"/><path d="M770 265.1 C772.0 265.7 778.6 266.5 781.9 268.5 C785.2 270.5 787.6 273.8 789.6 276.9 C791.6 280.0 793.0 283.4 794.1 287.1 C795.2 290.8 795.6 294.2 796 299 C796.4 303.8 796.2 310.2 796.4 315.9 C796.5 321.5 796.3 328.1 796.9 332.9 C797.5 337.7 798.2 341.5 799.7 344.7 C801.2 347.9 803.2 350.3 805.6 352.3 C808.0 354.3 811.7 355.8 814.1 356.6 C816.5 357.4 818.2 357.1 820 357.2 C821.8 357.3 824.0 357.3 824.8 357.3" fill="none" stroke="url(#rcurve)" stroke-width="1.9" stroke-linecap="round"/><path d="M820.7 353.2 L825.7 357.4 L820.7 361.6" fill="none" stroke="#e84c2d" stroke-width="2" stroke-linecap="round" stroke-linejoin="round"/><rect x="3.5" y="453.5" width="1018" height="200" rx="10" fill="#f8f9fc" stroke="url(#cardb)" stroke-width="1"/><path d="M286 503.4 C288.3 504.3 292.7 507.6 300 508.6 C307.3 509.7 316.9 510.2 330 509.7 C343.1 509.2 360.3 506.8 378.8 505.6 C397.3 504.4 427.1 503.3 441 502.5 C454.9 501.7 451.9 501.5 462.2 501 C472.5 500.5 491.4 500.1 503 499.3 C514.6 498.5 521.2 497.4 532 496.2 C542.8 495.0 555.9 493.6 568 492 C580.1 490.4 592.4 488.7 604.5 486.6 C616.6 484.5 625.8 481.9 640.7 479.4 C655.6 476.9 677.5 473.4 694 471.5 C710.5 469.6 726.0 468.9 740 468 C754.0 467.1 765.5 466.6 778 466 C790.5 465.4 808.8 464.8 815 464.5 Q 822 465 822 472 L 822 575 L 286 575 Z" fill="url(#tfill)"/><path d="M160 556.6 C 200 545 240 530 260 515 C 270 508 278 503.4 286 503.4" fill="none" stroke="url(#tl1)" stroke-width="1.3"/><path d="M300 508.6 C305.0 508.8 316.9 510.2 330 509.7 C343.1 509.2 360.3 506.8 378.8 505.6 C397.3 504.4 427.1 503.3 441 502.5 C454.9 501.7 451.9 501.5 462.2 501 C472.5 500.5 491.4 500.1 503 499.3 C514.6 498.5 521.2 497.4 532 496.2 C542.8 495.0 555.9 493.6 568 492 C580.1 490.4 592.4 488.7 604.5 486.6 C616.6 484.5 625.8 481.9 640.7 479.4 C655.6 476.9 677.5 473.4 694 471.5 C710.5 469.6 726.0 468.9 740 468 C754.0 467.1 765.5 466.6 778 466 C790.5 465.4 808.8 464.8 815 464.5 Q 822 465 822 472" fill="none" stroke="#3f86f0" stroke-width="1.3"/><path d="M822 472 L 822 560" stroke="url(#vfade)" stroke-width="1.2"/><line x1="286.2" y1="502.8" x2="286.2" y2="598" stroke="#d5dcea" stroke-width="1"/><circle cx="286.2" cy="502.8" r="4.6" fill="#3d86f0"/><circle cx="286.2" cy="502.8" r="1.6" fill="#9db8e6"/><line x1="462.2" y1="500.9" x2="462.2" y2="598" stroke="#d5dcea" stroke-width="1"/><circle cx="462.2" cy="500.9" r="4.6" fill="#3d86f0"/><circle cx="462.2" cy="500.9" r="1.6" fill="#9db8e6"/><line x1="654.5" y1="500.7" x2="654.5" y2="598" stroke="#d5dcea" stroke-width="1"/><circle cx="654.5" cy="500.7" r="3.6" fill="#3f83ee"/><rect x="24.8" y="482.1" width="4.1" height="6.6" rx="1.2" fill="#3d85f0"/><rect x="30.4" y="478" width="4.1" height="10.7" rx="1.2" fill="#3d85f0"/><rect x="35.9" y="473.9" width="4" height="14.8" rx="1.5" fill="#1f2a55"/><rect x="842" y="474.5" width="160" height="118.5" rx="7" fill="#f8fafd" stroke="#e8ecf4" stroke-width="1"/><path d="M870.7 506.3 Q864 510.6 855.9 512 L855.9 522 Q856.8 535.8 870.7 542 Q884.6 535.8 885.5 522 L885.5 512 Q877.4 510.6 870.7 506.3 Z" fill="#ffffff" stroke="#3f83ee" stroke-width="2" stroke-linejoin="round"/><path d="M870.7 505.3 L870.7 543 Q855.9 536.5 854.9 522 L854.9 511.2 Q863.5 510 870.7 505.3 Z" fill="#3f83ee"/>
</svg>
<div class="t" style="left:30.00px;top:27.00px;font-size:30.4px;line-height:36.48px;font-weight:700;color:#17224b;transform:scaleX(0.9145);">The Inbox Has Gatekeepers Now</div>
<div class="t" style="left:30.00px;top:72.00px;font-size:12.2px;line-height:14.64px;font-weight:400;color:#6c7a98;transform:scaleX(1.0405);-webkit-text-stroke:0.25px #6c7a98;">Inbox providers are enforcing higher standards to protect users.</div>
<div class="t" style="left:30.50px;top:91.00px;font-size:12.2px;line-height:14.64px;font-weight:400;color:#6c7a98;transform:scaleX(1.0321);-webkit-text-stroke:0.25px #6c7a98;">Your emails need to pass every checkpoint to reach the inbox.</div>
<div class="t" style="left:366.70px;top:127.00px;font-size:12.5px;line-height:15.0px;font-weight:700;color:#18234d;transform:scaleX(0.9581);">Sender Compliance Checkpoints</div>
<div class="t" style="left:358.90px;top:145.00px;font-size:10px;line-height:12.0px;font-weight:400;color:#6c7a98;transform:scaleX(0.9540);-webkit-text-stroke:0.25px #6c7a98;">CLEAR EVERY CHECK TO REACH THE INBOX</div>
<div class="t" style="left:623.40px;top:48.00px;font-size:11.3px;line-height:13.56px;font-weight:700;color:#18234d;transform:scaleX(0.9144);">Major inbox providers, working from the same playbook</div>
<div class="t" style="left:632.20px;top:77.00px;font-size:16px;line-height:19.2px;font-weight:400;color:#5d6887;transform:scaleX(0.9033);">Google</div>
<div class="t" style="left:716.00px;top:76.00px;font-size:18.6px;line-height:22.32px;font-weight:700;color:#6a1be0;transform:scaleX(1.0188);-webkit-text-stroke:0.7px #6a1be0;">yahoo</div>
<div class="t" style="left:846.30px;top:79.00px;font-size:15.6px;line-height:18.72px;font-weight:400;color:#5d6887;transform:scaleX(1.0368);">Microsoft</div>
<div class="t" style="left:49.00px;top:184.00px;font-size:12.5px;line-height:15.0px;font-weight:700;color:#18234d;transform:scaleX(0.8894);">Your Email</div>
<div class="t" style="left:31.70px;top:319.00px;font-size:8.5px;line-height:10.2px;font-weight:400;color:#2b3659;transform:scaleX(1.0262);-webkit-text-stroke:0.25px #2b3659;">Marketing, transactional</div>
<div class="t" style="left:26.10px;top:330.00px;font-size:8.5px;line-height:10.2px;font-weight:400;color:#2b3659;transform:scaleX(1.0365);-webkit-text-stroke:0.25px #2b3659;">or customer communication</div>
<div class="t" style="left:201.60px;top:172.00px;font-size:11.5px;line-height:13.8px;font-weight:700;color:#18234d;transform:scaleX(0.8942);">SPF</div>
<div class="t" style="left:175.50px;top:187.00px;font-size:11.5px;line-height:13.8px;font-weight:700;color:#18234d;transform:scaleX(0.8921);">Authentication</div>
<div class="t" style="left:204.10px;top:264.00px;font-size:9.4px;line-height:11.28px;font-weight:700;color:#3f83ee;transform:scaleX(0.8697);">SPF</div>
<div class="t" style="left:202.60px;top:321.00px;font-size:8.6px;line-height:10.32px;font-weight:700;color:#4cae60;transform:scaleX(0.8954);">PASS</div>
<div class="t" style="left:189.70px;top:335.00px;font-size:8.5px;line-height:10.2px;font-weight:400;color:#2b3659;transform:scaleX(0.9323);-webkit-text-stroke:0.25px #2b3659;">Sending server</div>
<div class="t" style="left:189.70px;top:347.00px;font-size:8.5px;line-height:10.2px;font-weight:400;color:#2b3659;transform:scaleX(0.9483);-webkit-text-stroke:0.25px #2b3659;">is authorized</div>
<div class="t" style="left:199.70px;top:397.00px;font-size:8.6px;line-height:10.32px;font-weight:700;color:#f2843a;transform:scaleX(0.9125);">FAIL</div>
<div class="t" style="left:199.70px;top:410.00px;font-size:8.5px;line-height:10.2px;font-weight:400;color:#2b3659;transform:scaleX(0.9276);-webkit-text-stroke:0.25px #2b3659;">May be spoofed</div>
<div class="t" style="left:199.70px;top:423.00px;font-size:8.5px;line-height:10.2px;font-weight:400;color:#2b3659;transform:scaleX(0.9787);-webkit-text-stroke:0.25px #2b3659;">or rejected</div>
<div class="t" style="left:322.80px;top:172.00px;font-size:11.5px;line-height:13.8px;font-weight:700;color:#18234d;transform:scaleX(0.9835);">DKIM</div>
<div class="t" style="left:308.30px;top:187.00px;font-size:11.5px;line-height:13.8px;font-weight:700;color:#18234d;transform:scaleX(0.9260);">Verification</div>
<div class="t" style="left:327.90px;top:321.00px;font-size:8.6px;line-height:10.32px;font-weight:700;color:#4cae60;transform:scaleX(0.8954);">PASS</div>
<div class="t" style="left:313.20px;top:335.00px;font-size:8.5px;line-height:10.2px;font-weight:400;color:#2b3659;transform:scaleX(0.9496);-webkit-text-stroke:0.25px #2b3659;">Email content</div>
<div class="t" style="left:313.20px;top:347.00px;font-size:8.5px;line-height:10.2px;font-weight:400;color:#2b3659;transform:scaleX(0.9415);-webkit-text-stroke:0.25px #2b3659;">is verified</div>
<div class="t" style="left:323.80px;top:397.00px;font-size:8.6px;line-height:10.32px;font-weight:700;color:#f2843a;transform:scaleX(0.9125);">FAIL</div>
<div class="t" style="left:323.80px;top:410.00px;font-size:8.5px;line-height:10.2px;font-weight:400;color:#2b3659;-webkit-text-stroke:0.25px #2b3659;">Content may be</div>
<div class="t" style="left:323.80px;top:423.00px;font-size:8.5px;line-height:10.2px;font-weight:400;color:#2b3659;transform:scaleX(1.0204);-webkit-text-stroke:0.25px #2b3659;">altered or rejected</div>
<div class="t" style="left:442.70px;top:172.00px;font-size:11.5px;line-height:13.8px;font-weight:700;color:#18234d;transform:scaleX(0.9603);">DMARC</div>
<div class="t" style="left:448.80px;top:187.00px;font-size:11.5px;line-height:13.8px;font-weight:700;color:#18234d;transform:scaleX(0.8531);">Policy</div>
<div class="t" style="left:454.30px;top:321.00px;font-size:8.6px;line-height:10.32px;font-weight:700;color:#4cae60;transform:scaleX(0.8954);">PASS</div>
<div class="t" style="left:436.80px;top:335.00px;font-size:8.5px;line-height:10.2px;font-weight:400;color:#2b3659;transform:scaleX(0.9355);-webkit-text-stroke:0.25px #2b3659;">Domain is aligned</div>
<div class="t" style="left:436.80px;top:347.00px;font-size:8.5px;line-height:10.2px;font-weight:400;color:#2b3659;transform:scaleX(0.9677);-webkit-text-stroke:0.25px #2b3659;">and protected</div>
<div class="t" style="left:450.90px;top:397.00px;font-size:8.6px;line-height:10.32px;font-weight:700;color:#f2843a;transform:scaleX(0.9125);">FAIL</div>
<div class="t" style="left:450.90px;top:410.00px;font-size:8.5px;line-height:10.2px;font-weight:400;color:#2b3659;transform:scaleX(0.9375);-webkit-text-stroke:0.25px #2b3659;">Fails alignment,</div>
<div class="t" style="left:450.90px;top:423.00px;font-size:8.5px;line-height:10.2px;font-weight:400;color:#2b3659;transform:scaleX(0.9384);-webkit-text-stroke:0.25px #2b3659;">may be quarantined</div>
<div class="t" style="left:549.00px;top:172.00px;font-size:11.5px;line-height:13.8px;font-weight:700;color:#18234d;transform:scaleX(0.9303);">Spam Complaint</div>
<div class="t" style="left:579.70px;top:187.00px;font-size:11.5px;line-height:13.8px;font-weight:700;color:#18234d;transform:scaleX(0.9188);">Rate</div>
<div class="t" style="left:579.00px;top:321.00px;font-size:8.6px;line-height:10.32px;font-weight:700;color:#4cae60;transform:scaleX(0.8954);">PASS</div>
<div class="t" style="left:570.20px;top:335.00px;font-size:8.5px;line-height:10.2px;font-weight:400;color:#2b3659;transform:scaleX(0.9290);-webkit-text-stroke:0.25px #2b3659;">Below 0.1%</div>
<div class="t" style="left:568.20px;top:347.00px;font-size:8.5px;line-height:10.2px;font-weight:400;color:#2b3659;transform:scaleX(0.9722);-webkit-text-stroke:0.25px #2b3659;">complaint rate</div>
<div class="t" style="left:574.60px;top:397.00px;font-size:8.6px;line-height:10.32px;font-weight:700;color:#f2843a;transform:scaleX(0.9125);">FAIL</div>
<div class="t" style="left:574.60px;top:410.00px;font-size:8.5px;line-height:10.2px;font-weight:400;color:#2b3659;transform:scaleX(0.9783);-webkit-text-stroke:0.25px #2b3659;">0.3%+ may lead to</div>
<div class="t" style="left:574.60px;top:423.00px;font-size:8.5px;line-height:10.2px;font-weight:400;color:#2b3659;transform:scaleX(1.0332);-webkit-text-stroke:0.25px #2b3659;">blocking or rejection</div>
<div class="t" style="left:690.35px;top:172.00px;font-size:11.5px;line-height:13.8px;font-weight:700;color:#18234d;transform:scaleX(0.9557);">One-Click</div>
<div class="t" style="left:683.35px;top:187.00px;font-size:11.5px;line-height:13.8px;font-weight:700;color:#18234d;transform:scaleX(0.9375);">Unsubscribe</div>
<div class="t" style="left:704.40px;top:321.00px;font-size:8.6px;line-height:10.32px;font-weight:700;color:#4cae60;transform:scaleX(0.8954);">PASS</div>
<div class="t" style="left:684.50px;top:335.00px;font-size:8.5px;line-height:10.2px;font-weight:400;color:#2b3659;transform:scaleX(0.9451);-webkit-text-stroke:0.25px #2b3659;">Easy exit protects</div>
<div class="t" style="left:688.80px;top:347.00px;font-size:8.5px;line-height:10.2px;font-weight:400;color:#2b3659;transform:scaleX(0.9648);-webkit-text-stroke:0.25px #2b3659;">your reputation</div>
<div class="t" style="left:699.60px;top:397.00px;font-size:8.6px;line-height:10.32px;font-weight:700;color:#f2843a;transform:scaleX(0.9125);">FAIL</div>
<div class="t" style="left:699.60px;top:410.00px;font-size:8.5px;line-height:10.2px;font-weight:400;color:#2b3659;transform:scaleX(1.0057);-webkit-text-stroke:0.25px #2b3659;">Hard to unsubscribe</div>
<div class="t" style="left:699.60px;top:423.00px;font-size:8.5px;line-height:10.2px;font-weight:400;color:#2b3659;transform:scaleX(1.0250);-webkit-text-stroke:0.25px #2b3659;">drives spam reports</div>
<div class="t" style="left:905.90px;top:209.00px;font-size:15.6px;line-height:18.72px;font-weight:700;color:#18234d;transform:scaleX(0.8896);">Inbox</div>
<div class="t" style="left:905.90px;top:234.00px;font-size:8.8px;line-height:10.56px;font-weight:400;color:#2b3659;transform:scaleX(1.0160);-webkit-text-stroke:0.25px #2b3659;">Your email reaches</div>
<div class="t" style="left:905.90px;top:247.00px;font-size:8.8px;line-height:10.56px;font-weight:400;color:#2b3659;transform:scaleX(1.0579);-webkit-text-stroke:0.25px #2b3659;">the primary inbox</div>
<div class="t" style="left:905.90px;top:260.00px;font-size:8.8px;line-height:10.56px;font-weight:400;color:#2b3659;transform:scaleX(1.0387);-webkit-text-stroke:0.25px #2b3659;">where it belongs.</div>
<div class="t" style="left:905.70px;top:327.00px;font-size:13.2px;line-height:15.84px;font-weight:700;color:#18234d;transform:scaleX(0.9020);">Filtered</div>
<div class="t" style="left:905.70px;top:342.00px;font-size:13.2px;line-height:15.84px;font-weight:700;color:#18234d;transform:scaleX(0.9202);">or Spam</div>
<div class="t" style="left:905.70px;top:364.00px;font-size:8.9px;line-height:10.68px;font-weight:400;color:#2b3659;transform:scaleX(1.0197);-webkit-text-stroke:0.25px #2b3659;">Your email is filtered,</div>
<div class="t" style="left:905.70px;top:377.00px;font-size:8.9px;line-height:10.68px;font-weight:400;color:#2b3659;transform:scaleX(1.0281);-webkit-text-stroke:0.25px #2b3659;">sent to spam, or</div>
<div class="t" style="left:905.70px;top:389.00px;font-size:8.9px;line-height:10.68px;font-weight:400;color:#2b3659;transform:scaleX(1.0289);-webkit-text-stroke:0.25px #2b3659;">rejected entirely.</div>
<div class="t" style="left:905.70px;top:402.00px;font-size:8.9px;line-height:10.68px;font-weight:400;color:#2b3659;transform:scaleX(1.0021);-webkit-text-stroke:0.25px #2b3659;">Your message is</div>
<div class="t" style="left:905.70px;top:415.00px;font-size:8.9px;line-height:10.68px;font-weight:400;color:#2b3659;transform:scaleX(0.9913);-webkit-text-stroke:0.25px #2b3659;">never seen.</div>
<div class="t" style="left:49.50px;top:475.00px;font-size:11.9px;line-height:14.28px;font-weight:700;color:#18234d;transform:scaleX(0.9047);">Rising Standards, Stricter Enforcement</div>
<div class="t" style="left:24.90px;top:500.00px;font-size:11.3px;line-height:13.56px;font-weight:400;color:#2b3659;transform:scaleX(0.8870);-webkit-text-stroke:0.25px #2b3659;">The rules stopped changing in Feb 2024.</div>
<div class="t" style="left:24.90px;top:515.00px;font-size:11.3px;line-height:13.56px;font-weight:400;color:#2b3659;transform:scaleX(0.8961);-webkit-text-stroke:0.25px #2b3659;">What’s changed since then is how</div>
<div class="t" style="left:24.90px;top:530.00px;font-size:11.3px;line-height:13.56px;font-weight:400;color:#2b3659;transform:scaleX(0.9052);-webkit-text-stroke:0.25px #2b3659;">strictly they’re enforced.</div>
<div class="t" style="left:298.50px;top:497.00px;font-size:12.6px;line-height:15.12px;font-weight:700;color:#18234d;transform:scaleX(0.9776);">2024</div>
<div class="t" style="left:298.50px;top:515.00px;font-size:9.9px;line-height:11.88px;font-weight:400;color:#18234d;transform:scaleX(0.9213);-webkit-text-stroke:0.25px #18234d;">The Shift</div>
<div class="t" style="left:299.30px;top:534.00px;font-size:9px;line-height:10.8px;font-weight:400;color:#18234d;-webkit-text-stroke:0.25px #18234d;">•</div>
<div class="t" style="left:306.60px;top:534.00px;font-size:9px;line-height:10.8px;font-weight:400;color:#2b3659;transform:scaleX(0.9317);-webkit-text-stroke:0.25px #2b3659;">Google &amp; Yahoo (Feb 2024)</div>
<div class="t" style="left:299.30px;top:549.00px;font-size:9px;line-height:10.8px;font-weight:400;color:#18234d;-webkit-text-stroke:0.25px #18234d;">•</div>
<div class="t" style="left:306.60px;top:549.00px;font-size:9px;line-height:10.8px;font-weight:400;color:#2b3659;transform:scaleX(0.9224);-webkit-text-stroke:0.25px #2b3659;">SPF, DKIM, DMARC required</div>
<div class="t" style="left:299.30px;top:564.00px;font-size:9px;line-height:10.8px;font-weight:400;color:#18234d;-webkit-text-stroke:0.25px #18234d;">•</div>
<div class="t" style="left:306.60px;top:564.00px;font-size:9px;line-height:10.8px;font-weight:400;color:#2b3659;transform:scaleX(0.9703);-webkit-text-stroke:0.25px #2b3659;">One-click unsubscribe</div>
<div class="t" style="left:299.30px;top:578.00px;font-size:9px;line-height:10.8px;font-weight:400;color:#18234d;-webkit-text-stroke:0.25px #18234d;">•</div>
<div class="t" style="left:306.60px;top:578.00px;font-size:9px;line-height:10.8px;font-weight:400;color:#2b3659;transform:scaleX(0.9385);-webkit-text-stroke:0.25px #2b3659;">Complaint rate &lt; 0.1%</div>
<div class="t" style="left:474.80px;top:494.00px;font-size:12.6px;line-height:15.12px;font-weight:700;color:#18234d;transform:scaleX(1.0062);">2025</div>
<div class="t" style="left:474.80px;top:515.00px;font-size:9.9px;line-height:11.88px;font-weight:400;color:#18234d;transform:scaleX(0.9702);-webkit-text-stroke:0.25px #18234d;">More Providers Join</div>
<div class="t" style="left:475.90px;top:534.00px;font-size:9px;line-height:10.8px;font-weight:400;color:#18234d;-webkit-text-stroke:0.25px #18234d;">•</div>
<div class="t" style="left:482.90px;top:534.00px;font-size:9px;line-height:10.8px;font-weight:400;color:#2b3659;transform:scaleX(0.9445);-webkit-text-stroke:0.25px #2b3659;">Microsoft announces requirements</div>
<div class="t" style="left:475.90px;top:549.00px;font-size:9px;line-height:10.8px;font-weight:400;color:#18234d;-webkit-text-stroke:0.25px #18234d;">•</div>
<div class="t" style="left:482.90px;top:549.00px;font-size:9px;line-height:10.8px;font-weight:400;color:#2b3659;transform:scaleX(0.9369);-webkit-text-stroke:0.25px #2b3659;">Alignment across major inboxes</div>
<div class="t" style="left:475.90px;top:564.00px;font-size:9px;line-height:10.8px;font-weight:400;color:#18234d;-webkit-text-stroke:0.25px #18234d;">•</div>
<div class="t" style="left:482.90px;top:564.00px;font-size:9px;line-height:10.8px;font-weight:400;color:#2b3659;transform:scaleX(0.9493);-webkit-text-stroke:0.25px #2b3659;">Leniency for small misconfigurations</div>
<div class="t" style="left:475.90px;top:578.00px;font-size:9px;line-height:10.8px;font-weight:400;color:#18234d;-webkit-text-stroke:0.25px #18234d;">•</div>
<div class="t" style="left:482.90px;top:578.00px;font-size:9px;line-height:10.8px;font-weight:400;color:#2b3659;transform:scaleX(0.9466);-webkit-text-stroke:0.25px #2b3659;">Monitoring increases</div>
<div class="t" style="left:667.20px;top:494.00px;font-size:12.6px;line-height:15.12px;font-weight:700;color:#18234d;transform:scaleX(0.9955);">2026</div>
<div class="t" style="left:667.20px;top:515.00px;font-size:9.9px;line-height:11.88px;font-weight:400;color:#18234d;transform:scaleX(1.0053);-webkit-text-stroke:0.25px #18234d;">Stricter Enforcement</div>
<div class="t" style="left:668.40px;top:534.00px;font-size:9px;line-height:10.8px;font-weight:400;color:#18234d;-webkit-text-stroke:0.25px #18234d;">•</div>
<div class="t" style="left:674.80px;top:534.00px;font-size:9px;line-height:10.8px;font-weight:400;color:#2b3659;transform:scaleX(0.9491);-webkit-text-stroke:0.25px #2b3659;">Leniency largely gone</div>
<div class="t" style="left:668.40px;top:549.00px;font-size:9px;line-height:10.8px;font-weight:400;color:#18234d;-webkit-text-stroke:0.25px #18234d;">•</div>
<div class="t" style="left:674.80px;top:549.00px;font-size:9px;line-height:10.8px;font-weight:400;color:#2b3659;transform:scaleX(0.9385);-webkit-text-stroke:0.25px #2b3659;">Partiall setups no longer pass</div>
<div class="t" style="left:668.40px;top:564.00px;font-size:9px;line-height:10.8px;font-weight:400;color:#18234d;-webkit-text-stroke:0.25px #18234d;">•</div>
<div class="t" style="left:674.80px;top:564.00px;font-size:9px;line-height:10.8px;font-weight:400;color:#2b3659;transform:scaleX(0.9617);-webkit-text-stroke:0.25px #2b3659;">More filtering, more rejections</div>
<div class="t" style="left:668.40px;top:578.00px;font-size:9px;line-height:10.8px;font-weight:400;color:#18234d;-webkit-text-stroke:0.25px #18234d;">•</div>
<div class="t" style="left:674.80px;top:578.00px;font-size:9px;line-height:10.8px;font-weight:400;color:#2b3659;transform:scaleX(0.9586);-webkit-text-stroke:0.25px #2b3659;">Reputation matters more than ever</div>
<div class="t" style="left:903.90px;top:495.00px;font-size:10px;line-height:12.0px;font-weight:700;color:#18234d;transform:scaleX(0.9264);">The bar is higher.</div>
<div class="t" style="left:903.90px;top:510.00px;font-size:10px;line-height:12.0px;font-weight:700;color:#18234d;transform:scaleX(0.9439);">The expectations</div>
<div class="t" style="left:903.90px;top:525.00px;font-size:10px;line-height:12.0px;font-weight:700;color:#18234d;transform:scaleX(0.9246);">are clear.</div>
<div class="t" style="left:903.90px;top:543.00px;font-size:10px;line-height:12.0px;font-weight:700;color:#18234d;transform:scaleX(0.9393);">Legitimate senders</div>
<div class="t" style="left:903.90px;top:557.00px;font-size:10px;line-height:12.0px;font-weight:700;color:#3f83ee;transform:scaleX(0.9330);">always get through.</div>
</body></html>
